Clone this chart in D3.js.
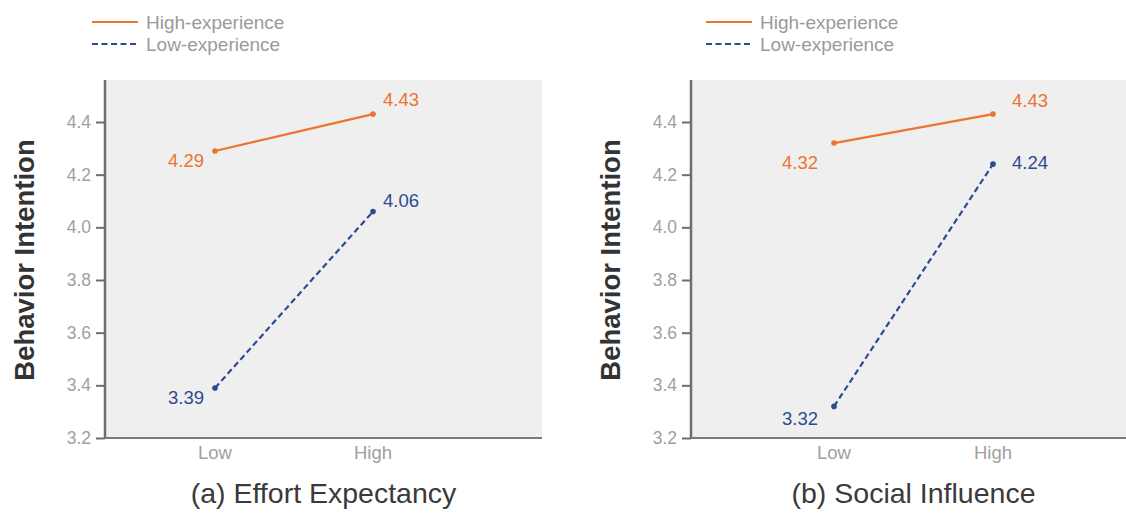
<!DOCTYPE html>
<html>
<head>
<meta charset="utf-8">
<script src="https://cdn.jsdelivr.net/npm/d3@7"></script>
<style>
  body { margin: 0; background: #fff; }
  svg { display: block; font-family: "Liberation Sans", Arial, sans-serif; }
</style>
</head>
<body>
<svg id="chart" width="1126" height="515"></svg>
<script>
const levels = ["Low", "High"];
const seriesNames = ["High-experience", "Low-experience"];
const panelTitles = ["(a) Effort Expectancy", "(b) Social Influence"];
const highExp = [[4.29, 4.43], [4.32, 4.43]];
const lowExp = [[3.39, 4.06], [3.32, 4.24]];
const yTicks = [3.2, 3.4, 3.6, 3.8, 4.0, 4.2, 4.4];

const orange = "#ec7430";
const blue = "#2d4b92";

const svg = d3.select("#chart");

// layout per panel; label offsets are [dx, dy] for [high series, low series] x [Low, High]
const panels = [
  { x0: 105, x1: 542, lowX: 215, highX: 373, legendX: 92,
    offs: [[[-11, 10], [10, -15]], [[-11, 10], [10, -11]]] },
  { x0: 691, x1: 1126, lowX: 834, highX: 993, legendX: 706,
    offs: [[[-16, 19], [19, -14]], [[-16, 12], [19, -2]]] }
];
const plotTop = 80, plotBottom = 438;

panels.forEach((p, pi) => {
  const g = svg.append("g");

  const y = d3.scaleLinear().domain([3.2, 4.4]).range([plotBottom, 122]);
  const x = d3.scalePoint().domain(levels).range([p.lowX, p.highX]);

  g.append("rect")
    .attr("x", p.x0).attr("y", plotTop)
    .attr("width", p.x1 - p.x0).attr("height", plotBottom - plotTop)
    .attr("fill", "#efefef");

  // y axis
  const yAxis = g.append("g")
    .attr("transform", `translate(${p.x0},0)`)
    .call(d3.axisLeft(y).tickValues(yTicks).tickFormat(d3.format(".1f")).tickSize(9).tickSizeOuter(0).tickPadding(5));
  yAxis.select(".domain").remove();
  yAxis.selectAll(".tick line").attr("stroke", "#6e6e6e").attr("stroke-width", 2);
  yAxis.selectAll(".tick text")
    .attr("fill", "#a0a0a0").style("font-size", "17.5px")
    .style("font-family", "'Liberation Sans', Arial, sans-serif");
  g.append("line")
    .attr("x1", p.x0).attr("x2", p.x0).attr("y1", plotTop).attr("y2", plotBottom + 1)
    .attr("stroke", "#6e6e6e").attr("stroke-width", 2.5);

  // x axis
  g.append("line")
    .attr("x1", p.x0).attr("x2", p.x1).attr("y1", plotBottom).attr("y2", plotBottom)
    .attr("stroke", "#7a7a7a").attr("stroke-width", 2);
  g.selectAll(".xlab").data(levels).join("text")
    .attr("x", d => x(d)).attr("y", 459)
    .attr("text-anchor", "middle")
    .attr("fill", "#a0a0a0").style("font-size", "18.5px")
    .text(d => d);

  // axis title
  g.append("text")
    .attr("transform", `translate(${p.x0 - 81},${(plotTop + plotBottom) / 2 + 1}) rotate(-90)`)
    .attr("text-anchor", "middle").attr("dy", "0.35em")
    .attr("fill", "#333").style("font-size", "27.5px").style("font-weight", "bold")
    .text("Behavior Intention");

  // panel title
  g.append("text")
    .attr("x", (p.x0 + p.x1) / 2 + (pi === 1 ? 5 : 0)).attr("y", 503)
    .attr("text-anchor", "middle")
    .attr("fill", "#3a3a3a").style("font-size", "28.5px")
    .text(panelTitles[pi]);

  const series = [
    { name: seriesNames[0], vals: highExp[pi], color: orange, dash: null },
    { name: seriesNames[1], vals: lowExp[pi], color: blue, dash: "6,3.5" }
  ];

  const line = d3.line().x((d, i) => x(levels[i])).y(d => y(d));

  series.forEach((s, si) => {
    g.append("path")
      .attr("d", line(s.vals))
      .attr("fill", "none").attr("stroke", s.color)
      .attr("stroke-width", 2.2)
      .attr("stroke-dasharray", s.dash);
    g.selectAll(null).data(s.vals).join("circle")
      .attr("cx", (d, i) => x(levels[i])).attr("cy", d => y(d))
      .attr("r", 2.8).attr("fill", s.color);
    g.selectAll(null).data(s.vals).join("text")
      .attr("x", (d, i) => x(levels[i]) + p.offs[si][i][0])
      .attr("y", (d, i) => y(d) + p.offs[si][i][1])
      .attr("dy", "0.35em")
      .attr("text-anchor", (d, i) => i === 0 ? "end" : "start")
      .attr("fill", s.color).style("font-size", "18.5px")
      .text(d => d.toFixed(2));
  });

  // legend
  const leg = g.append("g").attr("transform", `translate(${p.legendX},22)`);
  series.forEach((s, i) => {
    leg.append("line")
      .attr("x1", 0).attr("x2", 46).attr("y1", i * 22).attr("y2", i * 22)
      .attr("stroke", s.color).attr("stroke-width", 2.2)
      .attr("stroke-dasharray", s.dash);
    leg.append("text")
      .attr("x", 54).attr("y", i * 22).attr("dy", "0.35em")
      .attr("fill", "#9a9a9a").style("font-size", "19px")
      .text(s.name);
  });
});
</script>
</body>
</html>
